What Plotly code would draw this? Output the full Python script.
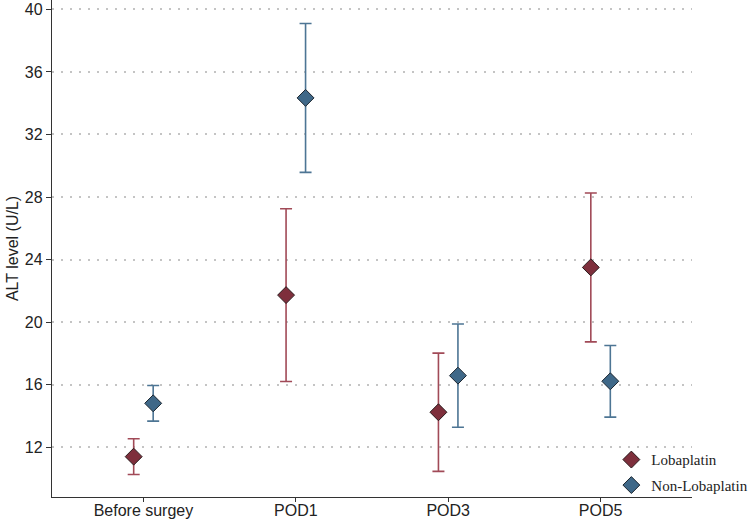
import plotly.graph_objects as go

categories = ["Before surgey", "POD1", "POD3", "POD5"]
lob_mean = [11.40, 21.73, 14.24, 23.50]
lob_sd = [1.14, 5.52, 3.78, 4.76]
non_mean = [14.81, 34.34, 16.58, 16.22]
non_sd = [1.14, 4.76, 3.30, 2.29]
y_ticks = [12, 16, 20, 24, 28, 32, 36, 40]

idx = list(range(len(categories)))
off = 0.064

fig = go.Figure()
fig.add_trace(go.Scatter(
    x=[i - off for i in idx], y=lob_mean, mode="markers", name="Lobaplatin",
    legendgroup="a",
    marker=dict(symbol="diamond", size=13, color="#7e2f3c",
                line=dict(color="#2a1a1c", width=1)),
    error_y=dict(type="data", array=lob_sd, visible=True, color="#a14a57",
                 thickness=1.6, width=6),
))
fig.add_trace(go.Scatter(
    x=[i + off for i in idx], y=non_mean, mode="markers", name="Non-Lobaplatin",
    legendgroup="b",
    marker=dict(symbol="diamond", size=13, color="#3f6888",
                line=dict(color="#1c2630", width=1)),
    error_y=dict(type="data", array=non_sd, visible=True, color="#4d7594",
                 thickness=1.6, width=6),
))

fig.update_layout(
    width=750, height=520,
    margin=dict(l=52, r=58, t=0, b=23, autoexpand=False),
    plot_bgcolor="white", paper_bgcolor="white",
    font=dict(family="Liberation Sans, Arial", size=16, color="#222"),
    showlegend=True,
    legend=dict(x=0.874, y=0.108, xanchor="left", yanchor="top",
                font=dict(family="Liberation Serif, Times New Roman", size=15, color="#222"),
                bgcolor="rgba(0,0,0,0)", itemwidth=30, tracegroupgap=3),
)
fig.update_xaxes(
    range=[-0.6, 3.6], tickvals=idx, ticktext=categories,
    showline=True, linecolor="#333", linewidth=1.3,
    ticks="outside", ticklen=4, tickcolor="#333", showgrid=False, zeroline=False,
    tickfont=dict(size=16), automargin=False, ticklabelstandoff=-5,
)
fig.update_yaxes(
    range=[8.82, 40.6], tickvals=y_ticks,
    showline=True, linecolor="#333", linewidth=1.3,
    ticks="outside", ticklen=5, tickcolor="#333",
    showgrid=True, gridcolor="#c4c4c4", gridwidth=2, griddash="2px,7px",
    zeroline=False, tickfont=dict(size=16), automargin=False,
    title=dict(text="ALT level (U/L)", font=dict(size=16), standoff=2),
)

fig.write_html("out.html", config={"displayModeBar": False},
               post_script="document.body.style.margin='0';document.body.style.overflow='hidden';")
